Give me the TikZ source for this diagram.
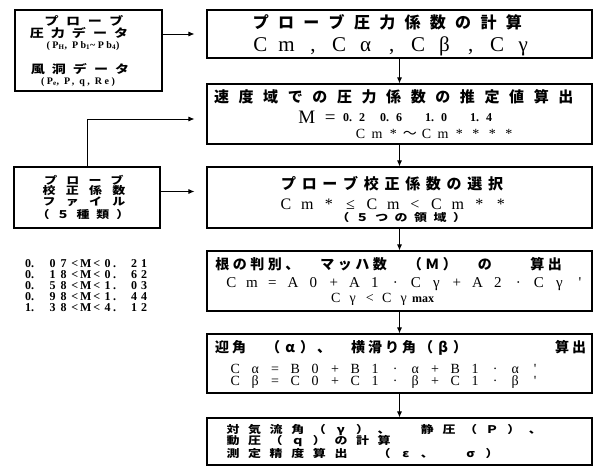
\documentclass[tikz,border=0pt]{standalone}
\usepackage{fontspec}
\newfontfamily\jp{Noto Sans CJK JP}
\newfontfamily\lat{Liberation Serif}
\newfontfamily\latw{Liberation Serif}[LetterSpace=25]
\usetikzlibrary{arrows.meta,calc}
\makeatletter
\def\fw@stop{\fw@stopmark}
\def\fw@loop#1{\def\fw@tmp{#1}\ifx\fw@tmp\fw@stop\else\makebox[\fw@p][c]{#1}\expandafter\fw@loop\fi}
\newcommand\fwt[2]{\def\fw@p{#1}\fw@loop#2\fw@stopmark}
\makeatother
\newcommand\fs[1]{\fontsize{#1}{#1}\selectfont}
\newcommand\mline[4]{\makebox[22pt][l]{#1.}\fwt{11pt}{#2<M<#3}\makebox[16pt][l]{.}\fwt{10pt}{#4}}
\newcommand\mnum[2]{\makebox[25pt][l]{#1.\hspace{7pt}#2}}
\newcommand\squat[1]{\scalebox{1.08}[0.88]{#1}}
\tikzset{
  box/.style={draw, line width=1.1pt, inner sep=0pt},
  arr/.style={-{Latex[length=6pt,width=5pt]}, line width=0.9pt},
  txt/.style={inner sep=0pt, anchor=west},
  ctxt/.style={inner sep=0pt, anchor=center},
  lst/.style={inner sep=0pt, anchor=west, font=\lat\bfseries\fs{12}},
}
\begin{document}
\begin{tikzpicture}[x=1pt,y=-1pt]
\useasboundingbox (0,0) rectangle (598,468);
% boxes
\node[box,minimum width=147pt,minimum height=81pt] (A) at (88.5,50.5) {};
\node[box,minimum width=146pt,minimum height=61pt] (B) at (87,197.5) {};
\node[box,minimum width=385pt,minimum height=48pt] (b1) at (399.5,34) {};
\node[box,minimum width=385pt,minimum height=60pt] (b2) at (399.5,114) {};
\node[box,minimum width=385pt,minimum height=61pt] (b3) at (399.5,197.5) {};
\node[box,minimum width=385pt,minimum height=60pt] (b4) at (399.5,281) {};
\node[box,minimum width=385pt,minimum height=59pt] (b5) at (399.5,363.5) {};
\node[box,minimum width=385pt,minimum height=47pt] (b6) at (399.5,441.5) {};
% connectors
\draw[arr,shorten >=12pt] (A.east |- b1.west) -- (b1.west);
\draw[arr,shorten >=12pt] (B.north) |- ([yshift=-5pt]b2.west);
\draw[arr,shorten >=12pt] ([yshift=6pt]B.east) -- ([yshift=6pt]b3.west);
\draw[arr] (b1.south) -- (b2.north);
\draw[arr] (b2.south) -- (b3.north);
\draw[arr] (b3.south) -- (b4.north);
\draw[arr] (b4.south) -- (b5.north);
\draw[arr] (b5.south) -- (b6.north);
% box A
\node[ctxt] (a1) at (84,21) {\jp\bfseries\fs{13}\squat{\fwt{20pt}{プローブ}}};
\node[ctxt] (a2) at (79,33) {\jp\bfseries\fs{13}\squat{\fwt{19.5pt}{圧力データ}}};
\node[ctxt] (a3) at (83,46) {\latw\bfseries\fs{10}(P\textsubscript{H}, Pb\textsubscript{1}\textasciitilde Pb\textsubscript{4})};
\node[ctxt] (a4) at (80,69) {\jp\bfseries\fs{13}\squat{\fwt{19.5pt}{風洞データ}}};
\node[ctxt] (a5) at (78,82) {\latw\bfseries\fs{10}(P\textsubscript{e}, P, q, Re)};
% box B
\node[ctxt] (c1) at (84,180) {\jp\bfseries\fs{12}\squat{\fwt{20.5pt}{プローブ}}};
\node[ctxt] (c2) at (84,191) {\jp\bfseries\fs{12}\squat{\fwt{21.5pt}{校正係数}}};
\node[ctxt] (c3) at (84,202) {\jp\bfseries\fs{12}\squat{\fwt{21.5pt}{ファイル}}};
\node[ctxt] (c4) at (83,214) {\jp\bfseries\fs{12}\squat{\fwt{18.5pt}{（５種類）}}};
% list
\node[lst] (l1) at (25,264) {\mline{0}{07}{0}{21}};
\node[lst] (l2) at (25,275) {\mline{0}{18}{0}{62}};
\node[lst] (l3) at (25,286) {\mline{0}{58}{1}{03}};
\node[lst] (l4) at (25,297) {\mline{0}{98}{1}{44}};
\node[lst] (l5) at (25,308) {\mline{1}{38}{4}{12}};
% b1
\node[txt] (t11) at (248,22) {\jp\bfseries\fs{16}\fwt{25.3pt}{プローブ圧力係数の計算}};
\node[txt] (t12) at (247,46) {\lat\fs{21}\fwt{26.3pt}{Cm,Cα,Cβ,Cγ}};
% b2
\node[txt] (t21) at (209,97) {\jp\bfseries\fs{15}\fwt{24.6pt}{速度域での圧力係数の推定値算出}};
\node[txt,anchor=base west] (t22) at (294,124) {\lat\fs{19}\makebox[25pt]{M}\makebox[22pt]{=}\bfseries\fs{12}\raisebox{2pt}{\hspace{2pt}\mnum{0}{2}\hspace{12pt}\mnum{0}{6}\hspace{20pt}\mnum{1}{0}\hspace{20pt}\mnum{1}{4}}};
\node[txt] (t23) at (352,134) {\lat\fs{14}\fwt{16.5pt}{Cm*{\jp ～}Cm****}};
% b3
\node[txt] (t31) at (278,184) {\jp\bfseries\fs{15}\fwt{20.7pt}{プローブ校正係数の選択}};
\node[txt] (t32) at (275,204) {\lat\fs{16}\fwt{21.5pt}{Cm*≤Cm<Cm**}};
\node[txt] (t33) at (333,217) {\jp\bfseries\fs{12}\squat{\fwt{18pt}{（５つの領域）}}};
% b4
\node[txt] (t41) at (213.5,264) {\jp\bfseries\fs{14}\fwt{17.5pt}{根の判別、~マッハ数~（Ｍ）~の~~算出}};
\node[txt] (t42) at (221,284) {\lat\fs{15}\fwt{20.5pt}{Cm=A0+A1·Cγ+A2·Cγ'}};
\node[txt] (t43) at (327,299) {\lat\fs{14}\fwt{17pt}{Cγ<Cγ}{\bfseries\fs{12}max}};
% b5
\node[txt] (t51) at (213.5,348) {\jp\bfseries\fs{14}\fwt{17pt}{迎角~（α）、~横滑り角（β）~~~~~算出}};
\node[txt] (t52) at (225,368.5) {\lat\fs{14}\fwt{20pt}{Cα=B0+B1·α+B1·α'}};
\node[txt] (t53) at (225,382) {\lat\fs{14}\fwt{20pt}{Cβ=C0+C1·β+C1·β'}};
% b6
\node[txt] (t61) at (222,430) {\jp\bfseries\fs{12}\squat{\fwt{20pt}{対気流角（γ）、~静圧（Ｐ）、}}};
\node[txt] (t62) at (222,441.5) {\jp\bfseries\fs{12}\squat{\fwt{20pt}{動圧（ｑ）の計算}}};
\node[txt] (t63) at (222,453) {\jp\bfseries\fs{12}\squat{\fwt{20pt}{測定精度算出~（ε、~σ）}}};
\end{tikzpicture}
\end{document}
